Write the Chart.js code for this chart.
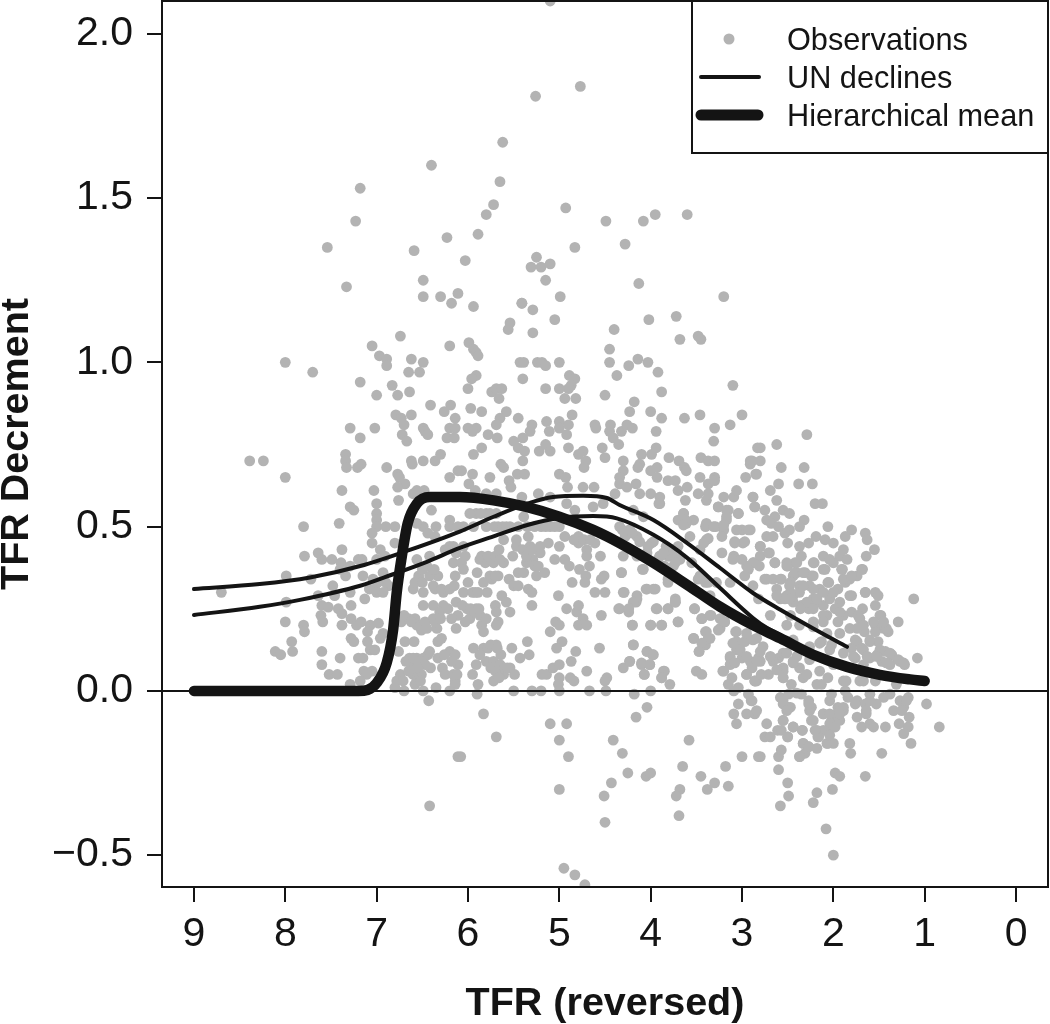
<!DOCTYPE html>
<html>
<head>
<meta charset="utf-8">
<title>TFR Decrement</title>
<script src="https://cdn.jsdelivr.net/npm/chart.js@4"></script>
<style>
  html, body { margin: 0; padding: 0; background: #fff; }
  canvas { display: block; }
</style>
</head>
<body>
<canvas id="chart" width="1050" height="1024"></canvas>
<script>
/* --- Data --- */
const xTicks = [9, 8, 7, 6, 5, 4, 3, 2, 1, 0];
const yTicks = [-0.5, 0, 0.5, 1, 1.5, 2];
const xTitle = 'TFR (reversed)';
const yTitle = 'TFR Decrement';
const legendLabels = ['Observations', 'UN declines', 'Hierarchical mean'];

// [TFR, decrement]
const observations = [
[6.40,1.60],[7.18,1.53],[7.23,1.43],[7.54,1.35],[6.23,1.38],[6.59,1.34],[7.33,1.23],[6.49,1.25],[6.49,1.20],[6.30,1.20],[6.11,1.21],[6.18,1.18],
[5.10,2.10],[4.77,1.84],[5.26,1.81],[5.62,1.67],[5.65,1.55],[5.72,1.48],[5.80,1.45],[5.89,1.39],[6.03,1.31],[4.93,1.47],[4.49,1.43],[4.08,1.43],[3.95,1.45],[3.60,1.45],[4.28,1.36],[4.83,1.35],[5.25,1.32],[5.31,1.29],[5.20,1.29],[5.10,1.30],[5.15,1.25],[4.13,1.24],[4.99,1.20],[3.20,1.20],[5.41,1.18],
[6.74,1.08],[7.05,1.05],[6.20,1.05],[6.97,1.02],[6.89,1.01],[6.89,0.99],[6.62,1.01],[6.49,1.00],[8.00,1.00],[7.70,0.97],[6.65,0.97],[6.53,0.97],[7.18,0.94],[6.83,0.93],[6.64,0.91],[6.77,0.90],[7.00,0.90],[6.41,0.87],[6.19,0.87],[6.26,0.85],[6.14,0.83],[6.79,0.84],[6.73,0.83],[6.62,0.84],[6.70,0.81],[7.29,0.80],[7.02,0.80],[6.49,0.80],[6.20,0.80],[6.14,0.80],[6.47,0.79],[6.44,0.78],[6.72,0.78],[7.18,0.77],[6.67,0.76],[6.23,0.77],[6.15,0.77],
[7.34,0.72],[7.34,0.70],[7.33,0.68],[8.39,0.70],[8.24,0.70],[7.17,0.69],[7.21,0.68],[8.00,0.65],[6.62,0.70],[6.61,0.69],[6.49,0.70],[6.36,0.70],[6.30,0.72],[6.89,0.68],[6.77,0.66],[6.75,0.65],[6.69,0.63],[6.77,0.62],[6.20,0.65],[6.11,0.67],[7.38,0.61],[7.03,0.61],[7.00,0.57],[6.76,0.58],[6.60,0.60],[6.56,0.61],[6.48,0.61],[7.29,0.56],[7.25,0.55],[6.40,0.55],[7.00,0.54],[7.00,0.52],[7.00,0.50],[7.41,0.51],[7.80,0.50],[6.90,0.50],[6.80,0.50],[6.20,0.52],[6.20,0.50],[6.11,0.50],[6.35,0.50],[6.49,0.50],[6.56,0.51],[6.44,0.48],[6.36,0.47],[7.05,0.48],[7.05,0.45],[6.80,0.45],[7.38,0.43],[6.96,0.43],[6.91,0.41],[7.79,0.41],[7.64,0.42],[7.60,0.40],[7.49,0.40],[7.39,0.39],[7.20,0.40],[7.16,0.40],[7.00,0.40],[7.29,0.38],[7.40,0.37],[7.99,0.35],[7.72,0.34],[7.34,0.35],[7.15,0.35],[7.04,0.34],[6.93,0.36],[6.56,0.40],[6.42,0.41],[6.45,0.38],[6.54,0.35],[6.33,0.35],[6.14,0.35],[6.16,0.39],[6.13,0.42],[6.54,0.34],[7.48,0.32],[7.29,0.30],[8.70,0.30],[7.64,0.29],[7.46,0.29],[7.13,0.28],[6.87,0.32],[7.00,0.30],[6.93,0.30],[6.60,0.31],[6.49,0.30],[6.36,0.31],[6.27,0.30],[7.99,0.27],
[8.00,0.21],[7.80,0.20],[7.79,0.18],[7.93,0.15],[8.11,0.12],[8.05,0.11],[7.92,0.12],[7.60,0.26],[7.53,0.255],[7.61,0.23],[7.59,0.21],[7.42,0.25],[7.38,0.235],[7.38,0.20],[7.28,0.26],[7.28,0.22],[7.22,0.20],[7.17,0.21],[7.07,0.20],[6.98,0.206],[7.10,0.18],[7.28,0.16],[7.25,0.15],[7.10,0.15],[7.60,0.12],[7.40,0.10],[7.60,0.08],[7.52,0.05],[7.43,0.05],[7.20,0.10],[7.15,0.10],[7.07,0.125],[7.02,0.125],[7.14,0.06],[7.05,0.06],[7.11,0.05],[7.18,0.03],[7.29,0.02],[6.96,0.16],[6.93,0.175],[6.76,0.12],[6.69,0.15],[6.59,0.15],[6.73,0.21],[6.65,0.22],[6.58,0.22],[6.56,0.20],[6.51,0.185],[6.45,0.19],[6.34,0.19],[6.49,0.26],[6.38,0.26],[6.27,0.26],[6.13,0.27],[6.31,0.24],[6.11,0.23],[6.13,0.19],[6.33,0.15],[6.29,0.16],[6.20,0.12],[6.14,0.11],[6.33,0.10],[6.44,0.11],[6.64,0.10],[6.56,0.10],[6.49,0.10],[6.11,0.08],[6.62,0.08],[6.54,0.08],[6.41,0.07],[6.28,0.07],[6.25,0.05],[6.74,0.05],[6.60,0.05],[6.51,0.05],[6.78,0.03],[6.71,0.03],[6.58,0.02],[6.14,0.03],[6.14,0.02],[6.80,0.01],[6.35,0.01],[6.70,0.00],[6.49,0.00],[6.20,0.00],[6.43,-0.03],[6.11,-0.20],[6.42,-0.35],
[5.94,1.17],[5.41,1.18],[5.29,1.16],[5.05,1.13],[5.54,1.12],[5.56,1.10],[5.29,1.09],[5.99,1.06],[5.94,1.04],[5.91,1.03],[5.89,1.02],[4.40,1.10],[4.02,1.13],[3.72,1.14],[3.68,1.07],[3.48,1.08],[3.45,1.07],[4.45,1.04],[4.45,1.00],[4.24,0.99],[4.14,1.01],[4.03,1.00],[3.92,0.97],[4.37,0.96],[3.88,0.91],[4.50,0.90],[4.18,0.88],[4.23,0.85],[4.00,0.85],[3.88,0.83],[3.63,0.83],[3.46,0.84],[3.10,0.93],[3.00,0.84],[3.13,0.81],[3.30,0.80],[3.31,0.76],[3.94,0.79],[5.43,1.00],[5.39,1.00],[5.24,1.00],[5.19,1.00],[5.15,0.99],[5.00,1.00],[4.89,0.96],[4.83,0.95],[4.87,0.93],[4.90,0.92],[5.40,0.95],[5.15,0.92],[5.00,0.92],[4.94,0.89],[4.82,0.89],[5.91,0.96],[5.96,0.95],[6.00,0.92],[5.74,0.91],[5.69,0.92],[5.63,0.92],[5.66,0.89],[5.97,0.86],[5.85,0.85],[5.58,0.85],[5.65,0.83],[5.69,0.81],[5.45,0.83],[5.30,0.81],[5.32,0.79],[5.14,0.82],[5.11,0.79],[5.00,0.82],[5.00,0.80],[4.90,0.81],[4.92,0.78],[4.86,0.84],[4.61,0.81],[4.60,0.80],[4.44,0.81],[4.45,0.79],[4.41,0.77],[4.35,0.75],[4.32,0.79],[4.26,0.81],[4.20,0.80],[6.00,0.80],[5.91,0.80],[5.95,0.79],[5.78,0.78],[5.68,0.77],[5.50,0.76],[5.40,0.77],[5.45,0.74],[5.38,0.73],[5.22,0.73],[5.15,0.75],[5.10,0.73],[4.90,0.74],[5.85,0.74],[5.94,0.72],[4.74,0.73],[4.79,0.72],[4.71,0.70],[4.73,0.68],[4.53,0.74],[4.50,0.71],[3.94,0.74],[4.30,0.70],[4.30,0.67],[4.34,0.65],[4.34,0.63],[4.10,0.72],[3.99,0.72],[4.12,0.69],[4.14,0.68],[4.00,0.67],[3.93,0.65],[3.93,0.68],[3.80,0.71],[3.69,0.70],[3.63,0.68],[3.61,0.67],[3.45,0.71],[3.37,0.70],[3.30,0.70],[2.91,0.70],[2.91,0.69],[2.83,0.74],[2.85,0.66],[2.96,0.65],[5.64,0.69],[5.61,0.68],[5.40,0.70],[5.95,0.66],[5.76,0.65],[6.07,0.67],[5.46,0.66],[5.38,0.66],[5.00,0.66],[4.93,0.65],[4.91,0.62],[5.55,0.64],[5.53,0.62],[5.99,0.63],[5.92,0.61],[5.80,0.60],[5.69,0.60],[5.41,0.59],[5.23,0.60],[5.10,0.59],[4.74,0.62],[4.62,0.62],[4.39,0.60],[4.26,0.62],[4.16,0.63],[4.12,0.60],[4.00,0.60],[3.90,0.59],[3.90,0.57],[3.81,0.64],[3.73,0.64],[3.70,0.61],[3.60,0.62],[3.62,0.58],[3.46,0.65],[3.37,0.63],[3.30,0.65],[3.30,0.64],[3.48,0.60],[3.39,0.58],[3.37,0.60],[3.20,0.59],[3.09,0.59],[3.06,0.61],[3.26,0.56],[2.88,0.59],[2.86,0.56],[3.04,0.54],[3.15,0.55],[3.17,0.52],[3.20,0.49],[3.22,0.47],[3.00,0.49],[2.91,0.49],[3.08,0.45],[2.99,0.45],[3.64,0.54],[3.70,0.52],[3.53,0.52],[3.61,0.51],[3.40,0.50],[3.29,0.50],[3.39,0.46],[3.46,0.43],[3.57,0.47],[4.63,0.56],[4.52,0.57],[4.92,0.57],[4.83,0.55],[5.91,0.54],[5.80,0.54],[5.69,0.54],[5.39,0.53],[4.08,0.53],[4.19,0.55],[6.05,0.50],[5.94,0.50],[5.80,0.50],[5.67,0.50],[5.54,0.50],[5.45,0.50],[5.27,0.50],[5.10,0.50],[5.00,0.50],[4.34,0.50],[4.23,0.49],[4.28,0.47],[5.61,0.46],[5.47,0.46],[5.34,0.47],[5.32,0.44],[4.94,0.47],[4.79,0.47],[4.79,0.45],[4.61,0.45],[5.21,0.42],[5.12,0.45],[5.00,0.44],[5.21,0.44],[5.66,0.43],[5.51,0.41],[6.03,0.41],[4.70,0.43],[4.70,0.41],[4.55,0.41],[3.99,0.45],[4.04,0.42],[4.30,0.41],[4.15,0.41],[5.87,0.40],[5.81,0.39],[5.72,0.39],[5.61,0.39],[5.05,0.40],[4.94,0.40],[4.89,0.38],[5.29,0.40],[5.36,0.39],[5.45,0.36],[5.39,0.36],[5.16,0.36],[5.25,0.35],[4.78,0.37],[4.67,0.38],[4.32,0.36],[4.09,0.37],[5.90,0.36],[5.76,0.35],[5.67,0.35],[5.83,0.33],[4.71,0.35],[4.72,0.33],[4.86,0.33],[4.51,0.35],[4.54,0.34],[5.55,0.34],[5.50,0.32],[5.45,0.32],[5.34,0.31],[5.30,0.30],[6.00,0.33],[6.05,0.30],[5.92,0.30],[5.79,0.30],[4.30,0.30],[4.61,0.30],[4.50,0.30],[4.05,0.31],[3.95,0.31],[3.81,0.41],[3.71,0.41],[3.75,0.38],[3.81,0.34],[3.90,0.41],[3.48,0.34],[3.37,0.33],[2.95,0.38],[2.87,0.39],[3.09,0.41],[3.00,0.40],[5.63,0.29],[5.01,0.29],[4.15,0.29],[3.73,0.28],[3.35,0.29],
[5.30,0.26],[5.70,0.26],[5.58,0.27],[5.54,0.24],[5.69,0.24],[5.67,0.21],[5.69,0.20],[6.01,0.25],[5.91,0.25],[5.98,0.22],[5.87,0.23],[5.85,0.20],[5.83,0.18],[4.92,0.25],[4.81,0.24],[4.79,0.26],[4.74,0.22],[4.79,0.20],[4.70,0.20],[5.04,0.21],[5.00,0.20],[5.10,0.18],[4.54,0.23],[4.35,0.25],[4.24,0.24],[4.16,0.27],[4.20,0.20],[4.00,0.20],[3.88,0.20],[3.93,0.25],[3.81,0.25],[3.73,0.27],[3.70,0.21],[3.52,0.25],[3.44,0.22],[3.34,0.23],[3.19,0.21],[3.24,0.19],[3.40,0.18],[3.35,0.16],[3.40,0.14],[3.53,0.16],[3.47,0.12],[3.07,0.18],[3.06,0.15],[2.97,0.15],[4.19,0.14],[4.56,0.13],[4.97,0.15],[5.03,0.13],[4.82,0.12],[4.87,0.09],[5.35,0.15],[5.33,0.11],[5.43,0.10],[5.69,0.14],[5.52,0.13],[5.64,0.11],[5.94,0.13],[5.83,0.13],[5.87,0.11],[5.80,0.09],[5.91,0.08],[5.72,0.09],[5.65,0.08],[5.54,0.07],[5.49,0.05],[5.61,0.05],[5.67,0.05],[5.72,0.03],[5.95,0.05],[5.89,0.02],[5.90,-0.01],[5.19,0.05],[5.14,0.05],[5.07,0.07],[5.00,0.08],[5.00,0.04],[4.88,0.04],[4.84,0.03],[5.01,0.02],[4.70,0.06],[4.48,0.04],[4.50,0.03],[4.30,0.07],[4.23,0.09],[4.10,0.08],[4.01,0.08],[4.04,0.12],[3.98,0.11],[4.07,0.05],[3.85,0.06],[3.88,0.04],[3.79,0.02],[3.50,0.06],[3.44,0.05],[3.21,0.06],[5.50,0.00],[5.30,0.00],[5.20,0.00],[5.00,0.00],[4.67,0.00],[4.49,0.00],[4.00,0.00],[4.18,-0.01],[5.83,-0.07],[4.04,-0.05],[4.16,-0.08],[5.10,-0.10],[4.92,-0.10],[5.69,-0.14],[5.00,-0.15],[4.41,-0.15],[3.58,-0.15],[4.31,-0.19],[4.90,-0.20],[6.08,-0.20],[3.65,-0.23],[4.25,-0.25],[4.05,-0.26],[4.00,-0.25],[3.18,-0.23],[3.00,-0.20],[2.82,-0.20],[3.45,-0.26],[3.30,-0.28],[3.38,-0.30],[3.15,-0.29],[4.43,-0.28],[4.51,-0.32],[5.00,-0.30],[3.68,-0.30],[3.72,-0.32],[3.69,-0.38],[4.50,-0.40],[4.95,-0.54],[4.83,-0.56],[4.72,-0.59],
[3.13,0.10],[3.06,0.125],[3.00,0.10],[2.91,0.09],[2.82,0.10],[3.13,0.08],[2.89,0.07],[2.95,0.05],[2.86,0.03],[3.11,0.04],[3.15,0.02],[3.04,0.01],[3.09,0.00],[2.93,-0.01],[2.89,-0.03],[3.04,-0.04],[3.09,-0.07],[2.95,-0.07],[2.86,-0.07],[3.06,-0.10],
[2.29,0.78],[2.62,0.75],[2.80,0.74],[2.80,0.70],[2.89,0.70],[2.57,0.68],[2.32,0.68],[2.84,0.66],[2.38,0.63],[2.23,0.63],[2.60,0.63],[2.69,0.61],[2.88,0.59],[2.62,0.58],[2.20,0.57],[2.12,0.57],[2.86,0.56],[2.75,0.55],[2.55,0.55],[2.48,0.54],[2.64,0.53],[2.73,0.52],[2.68,0.51],[2.32,0.52],[2.37,0.50],[2.06,0.50],[1.80,0.49],[1.87,0.47],[1.65,0.48],[1.63,0.46],[1.55,0.43],[1.64,0.41],[2.48,0.49],[2.53,0.48],[2.19,0.47],[2.60,0.50],[2.73,0.47],[2.66,0.47],[2.50,0.45],[2.80,0.44],[2.37,0.44],[2.27,0.45],[2.09,0.46],[2.00,0.45],[1.89,0.43],[2.70,0.42],[2.80,0.41],[2.35,0.41],[2.11,0.41],[1.93,0.41],[1.85,0.40],[2.64,0.39],[2.50,0.38],[2.21,0.39],[2.00,0.39],[2.04,0.40],[2.88,0.39],[2.81,0.38],[2.42,0.39],[2.09,0.37],[1.90,0.37],[1.68,0.37],[2.40,0.36],[2.31,0.36],[2.24,0.35],[1.74,0.35],[1.82,0.34],[1.87,0.33],[2.75,0.34],[2.66,0.34],[2.57,0.34],[2.44,0.35],[2.06,0.33],[2.37,0.32],[2.26,0.32],[2.15,0.31],[1.95,0.31],[2.62,0.31],[2.51,0.29],[1.65,0.30],[1.54,0.30],[1.51,0.29],[1.80,0.29],[1.12,0.28],[2.44,0.29],[2.22,0.28],[2.04,0.29],[2.58,0.28],[2.35,0.26],[2.18,0.27],[2.11,0.26],[1.93,0.27],[1.54,0.26],[1.68,0.25],[1.80,0.24],[1.73,0.23],[1.48,0.23],[1.29,0.21],[2.27,0.25],[2.07,0.23],[1.89,0.23],[2.69,0.23],[2.47,0.23],[1.98,0.25],[2.22,0.21],[1.82,0.19],[1.95,0.21],[1.69,0.20],[1.66,0.18],[1.54,0.20],[1.45,0.19],[1.40,0.18],[1.54,0.18],[1.51,0.15],[1.74,0.15],[1.80,0.13],[1.60,0.15],[1.69,0.13],[1.43,0.12],[1.36,0.11],[1.52,0.11],[1.27,0.09],[1.22,0.08],[1.08,0.10],[1.76,0.10],[1.60,0.10],[1.38,0.08],[1.47,0.09],[1.67,0.08],[2.13,0.15],[2.02,0.14],[2.84,0.16],[2.80,0.12],[2.60,0.10],[2.44,0.09],[2.66,0.09],[2.80,0.09],[2.55,0.07],[2.37,0.07],[2.15,0.06],[2.00,0.08],[2.71,0.05],[2.84,0.03],[2.55,0.04],[2.46,0.02],[2.33,0.04],[2.18,0.02],[2.06,0.04],[1.89,0.03],[1.71,0.03],[1.54,0.03],
[0.98,-0.04],[0.84,-0.11],[1.15,-0.16],[1.47,-0.19],[1.65,-0.26],[1.98,-0.25],[1.93,-0.26],[2.01,-0.30],[2.18,-0.31],[2.22,-0.34],[2.08,-0.42],[2.00,-0.50],[2.50,-0.28],[2.49,-0.32],[2.58,-0.35],[2.60,-0.24],[2.80,-0.20],[2.60,-0.20],[2.57,-0.18],[2.37,-0.20],[1.82,-0.16],[1.81,-0.19],[2.73,-0.10],[2.55,-0.09],[2.61,-0.12],[2.44,-0.11],[2.34,-0.12],[2.75,-0.14],[2.69,-0.14],[2.50,-0.14],[2.18,-0.12],[2.17,-0.14],[2.33,-0.16],[2.27,-0.17],[2.18,-0.175],[2.31,-0.19],[2.06,-0.16],[2.00,-0.16],[1.74,-0.08],[1.69,-0.11],[1.60,-0.10],[1.56,-0.11],[1.43,-0.11],[1.28,-0.10],[1.18,-0.11],[1.23,-0.13],[1.17,-0.08],[2.84,-0.06],[2.90,-0.03],[2.55,-0.04],[2.47,-0.05],[2.58,-0.02],[2.49,-0.01],[2.35,-0.01],[2.24,-0.05],[2.24,-0.09],[2.27,-0.03],[2.04,-0.03],[1.95,-0.05],[2.11,-0.07],[2.02,-0.09],[1.95,-0.08],[2.04,-0.12],[1.89,-0.06],[1.84,-0.02],[1.74,-0.03],[1.64,-0.07],[1.65,-0.04],[1.53,-0.04],[1.45,-0.02],[1.34,-0.06],[1.23,-0.05],[1.18,-0.02],[1.27,-0.03],[2.13,0.02],[2.02,-0.01],[1.87,0.00],[1.60,-0.01],[1.38,-0.01],[2.55,0.06],[2.29,0.05],[2.86,0.03],[1.86,0.03],[1.67,0.03],[1.31,0.02],
[1.82,0.29],[1.65,0.30],[1.49,0.23],[1.71,0.22],[1.93,0.24],[2.11,0.23],[2.29,0.27],[2.36,0.25],[2.22,0.25],[2.04,0.28],[2.22,0.31],[2.37,0.30],[2.47,0.30],[2.42,0.36],[2.33,0.36],[2.22,0.35],[2.05,0.33],[1.89,0.34],[1.80,0.35],[1.69,0.37],[1.91,0.37],[2.22,0.39],[2.51,0.39],[2.40,0.39],[2.11,0.37],[2.00,0.30],[2.11,0.30],[2.47,0.33],[2.33,0.32],[2.18,0.28],[2.53,0.28],[2.44,0.27],[2.11,0.21],[1.74,0.19],[1.67,0.20],[1.56,0.21],[1.42,0.19],[1.45,0.21],[1.76,0.155],[1.60,0.155],[1.49,0.125],[1.38,0.115],[1.29,0.095],[1.23,0.085],[1.67,0.125],[1.63,0.105],[1.53,0.105],[1.42,0.085],[1.78,0.105],[1.93,0.175],[2.07,0.175],[2.22,0.195],[2.37,0.20],[2.51,0.20],[2.44,0.155],[2.26,0.135],[2.15,0.145],[2.04,0.125],[1.89,0.115],[2.26,0.095],[2.40,0.105],[2.55,0.115],
[2.49,-0.05],[2.55,-0.09],[2.44,-0.11],[2.34,-0.12],[2.50,-0.14],[2.57,-0.12],[2.33,-0.16],[2.27,-0.17],[2.37,-0.20],[2.07,-0.16],[2.11,-0.07],[2.04,-0.07],[1.96,-0.07],[1.93,-0.09],[2.04,-0.10],[1.98,-0.11],[2.11,-0.12],[2.04,-0.135],[2.16,-0.14],[2.20,-0.12],[2.26,-0.06],[2.27,-0.04],[2.22,-0.09],[1.89,-0.05],[1.93,-0.07],[1.76,-0.04],[1.64,-0.06],[1.60,-0.03],[1.25,-0.06],[1.20,-0.03],[2.40,-0.007],[2.55,-0.03],[2.51,-0.06],
[3.91,0.57],[3.64,0.54],[3.62,0.52],[3.64,0.505],[3.39,0.51],[3.31,0.50],[3.26,0.56],[3.17,0.55],[3.17,0.53],[3.04,0.54],[3.20,0.505],[3.06,0.49],[2.93,0.49],[3.08,0.454],[2.97,0.454],[3.37,0.464],[3.42,0.45],[3.97,0.454],[4.03,0.44],[3.81,0.43],[3.90,0.41],[3.79,0.41],[3.68,0.40],[3.73,0.39],[4.08,0.37],[4.32,0.36],[4.12,0.454],[4.23,0.49],[3.55,0.39],[3.22,0.42],[3.10,0.40],[2.80,0.44],[2.71,0.42],[2.64,0.39],[2.51,0.38],[2.93,0.37],[2.97,0.35],[2.73,0.34],[2.58,0.34],[2.48,0.32],[2.88,0.32],[2.82,0.28],[2.62,0.29],[2.48,0.28],[3.46,0.35],[3.40,0.33],[3.28,0.33],[3.13,0.33],[3.81,0.33],[3.97,0.31],[4.04,0.31],[4.29,0.30],[4.15,0.28],[4.19,0.27],[4.34,0.25],[4.24,0.25],[3.94,0.25],[3.81,0.25],[3.73,0.27],[3.52,0.25],[3.44,0.22],[3.35,0.23],[3.24,0.22],[3.19,0.21],[3.26,0.185],[3.39,0.18],[3.06,0.18],[2.95,0.175],[3.53,0.16],[3.37,0.16],[3.44,0.145],[3.47,0.12],[4.20,0.20],[4.00,0.20],[3.88,0.20],[3.70,0.21],[4.19,0.14],[4.04,0.12],[3.97,0.11],[4.23,0.09],[4.10,0.085],[4.01,0.08],[4.07,0.05],[3.86,0.06],[3.88,0.04],[3.10,0.145],[3.02,0.125],[3.13,0.105],[2.88,0.155],[2.77,0.135],[3.08,0.085],[2.95,0.105],[2.84,0.09],[2.69,0.105],[2.51,0.115],[2.44,0.085],[2.62,0.064],[2.95,0.05],[2.79,0.05],[3.20,0.06],[2.55,0.04],
[5.98,0.54],[5.86,0.54],[5.76,0.54],[5.71,0.50],[5.62,0.50],[5.58,0.50],[5.35,0.50],[5.20,0.50],[5.15,0.50],[5.05,0.50],[4.84,0.46],[4.73,0.46],[4.66,0.46],[5.47,0.44],[5.40,0.43],[5.36,0.41],[5.30,0.43],[5.27,0.38],[5.23,0.38],[5.85,0.41],[5.78,0.41],[5.70,0.41],[5.65,0.40],[5.74,0.34],[5.70,0.35],[6.07,0.39],[6.05,0.37],[5.95,0.30],[5.89,0.30],[3.83,0.44],[3.76,0.43],[3.70,0.44],[3.85,0.38],[3.80,0.37],[3.92,0.40],[3.86,0.42],[4.31,0.49],[4.15,0.47],[4.20,0.48],
[6.58,0.33],[6.50,0.33],[6.42,0.35],[6.38,0.32],[6.29,0.31],[6.20,0.31],[6.15,0.32],[6.50,0.37],[6.37,0.37],[6.25,0.43],[6.20,0.44],[6.16,0.44],[6.05,0.44],[7.08,0.31],[7.02,0.31],[6.99,0.33],[6.90,0.33],[6.70,0.23],[6.62,0.21],[6.52,0.20],[6.47,0.21],[6.38,0.22],[6.36,0.21],[6.30,0.22],[6.22,0.25],[6.18,0.22],[6.68,0.09],[6.60,0.10],[6.52,0.09],[6.47,0.08],[6.55,0.07],[6.65,0.06],[6.56,0.03],[6.52,0.03],[6.42,0.12],[6.26,0.11],[6.18,0.09],[6.16,0.05],[6.12,0.05],[6.06,0.26],[5.97,0.25],[6.03,0.21],[5.93,0.24],[5.88,0.25],[5.80,0.22],[5.75,0.07],[5.70,0.06],[5.60,0.07],[5.57,0.07],[5.66,0.04],[5.78,0.13],[5.75,0.14],[5.68,0.13]
];

const unDeclineA = [[9,0.31],[8.28,0.325],[7.73,0.345],[7.18,0.38],[6.63,0.43],[6.09,0.485],[5.72,0.53],[5.35,0.57],[5.07,0.59],[4.74,0.594],[4.48,0.587],[4.34,0.566],[3.97,0.52],[3.6,0.45],[3.24,0.374],[2.88,0.298],[2.58,0.247],[2.22,0.19],[1.85,0.134]];
const unDeclineB = [[9,0.231],[8.28,0.256],[7.84,0.277],[7.18,0.32],[6.82,0.355],[6.45,0.393],[6.09,0.435],[5.72,0.47],[5.35,0.505],[4.99,0.527],[4.63,0.532],[4.37,0.525],[3.97,0.475],[3.6,0.405],[3.24,0.313],[2.88,0.222],[2.73,0.192],[2.58,0.17]];
const hierarchicalMean = [[9,0],[7.2,0],[7.1,0.003],[7,0.024],[6.89,0.085],[6.82,0.185],[6.78,0.3],[6.73,0.4],[6.66,0.51],[6.56,0.57],[6.42,0.59],[6.09,0.59],[5.72,0.58],[5.36,0.56],[5,0.53],[4.63,0.49],[4.34,0.45],[3.97,0.39],[3.6,0.323],[3.24,0.256],[2.88,0.2],[2.58,0.16],[2.22,0.11],[1.85,0.073],[1.49,0.049],[1.16,0.035],[1,0.03]];
const zeroLine = [[9.35,0],[-0.35,0]];

const toPoints = rows => rows.map(r => ({ x: r[0], y: r[1] }));

/* --- Styles --- */
const ink = '#141414';
const dotGrey = '#b3b3b3';
const axisFont = { family: '"Liberation Sans", Arial, sans-serif', size: 41 };
const titleFont = { family: '"Liberation Sans", Arial, sans-serif', size: 39.5, weight: 'bold', lineHeight: 1 };

// R style frame round the plot, and the boxed legend in the top right corner
const framePlugin = {
    id: 'frame',
    afterDraw(chart) {
        const { ctx, chartArea: a } = chart;
        ctx.save();
        ctx.strokeStyle = ink;
        ctx.lineWidth = 2;
        ctx.strokeRect(a.left, a.top, a.right - a.left, a.bottom - a.top);

        // legend box
        ctx.fillStyle = '#fff';
        ctx.fillRect(692, a.top, a.right - 692, 152);
        ctx.strokeRect(692, a.top, a.right - 692, 152);

        ctx.fillStyle = dotGrey;
        ctx.beginPath();
        ctx.arc(729, 39, 5.5, 0, Math.PI * 2);
        ctx.fill();

        ctx.strokeStyle = ink;
        ctx.lineCap = 'round';
        ctx.lineWidth = 4;
        ctx.beginPath();
        ctx.moveTo(701, 77);
        ctx.lineTo(759, 77);
        ctx.stroke();
        ctx.lineWidth = 11;
        ctx.beginPath();
        ctx.moveTo(701, 115);
        ctx.lineTo(758, 115);
        ctx.stroke();

        ctx.fillStyle = ink;
        ctx.font = '30.7px "Liberation Sans", Arial, sans-serif';
        ctx.textBaseline = 'middle';
        ctx.fillText(legendLabels[0], 787, 42);
        ctx.fillText(legendLabels[1], 787, 80);
        ctx.fillText(legendLabels[2], 787, 118);
        ctx.restore();
    }
};

function lineSet(label, rows, width, order, cap) {
    return {
        label: label,
        data: toPoints(rows),
        showLine: true,
        borderColor: ink,
        borderWidth: width,
        borderCapStyle: cap,
        pointRadius: 0,
        cubicInterpolationMode: 'monotone',
        order: order
    };
}

new Chart(document.getElementById('chart').getContext('2d'), {
    type: 'scatter',
    data: {
        datasets: [
            lineSet(legendLabels[2], hierarchicalMean, 10.5, 1, 'round'),
            lineSet(legendLabels[1], unDeclineA, 4, 2, 'round'),
            lineSet(legendLabels[1], unDeclineB, 4, 2, 'round'),
            lineSet('Zero', zeroLine, 2, 3, 'butt'),
            {
                label: legendLabels[0],
                data: toPoints(observations),
                backgroundColor: dotGrey,
                borderWidth: 0,
                pointRadius: 5.4,
                order: 4
            }
        ]
    },
    options: {
        responsive: false,
        animation: false,
        events: [],
        layout: { autoPadding: false, padding: { top: 1, right: 2, left: 0, bottom: 0 } },
        plugins: { legend: { display: false }, tooltip: { enabled: false } },
        scales: {
            x: {
                type: 'linear',
                reverse: true,
                min: -0.35,
                max: 9.35,
                afterBuildTicks: axis => { axis.ticks = xTicks.map(v => ({ value: v })); },
                afterFit: axis => { axis.height = 137; axis.paddingLeft = 0; axis.paddingRight = 0; },
                border: { color: ink, width: 2 },
                grid: { drawOnChartArea: false, drawTicks: true, tickLength: 15, color: ink, lineWidth: 2 },
                ticks: { color: ink, font: axisFont, padding: 8, maxRotation: 0, autoSkip: false, callback: v => String(v) },
                title: { display: true, text: xTitle, color: ink, font: titleFont, padding: { top: 0, bottom: 0 } }
            },
            y: {
                type: 'linear',
                min: -0.597,
                max: 2.1,
                afterBuildTicks: axis => { axis.ticks = yTicks.map(v => ({ value: v })); },
                afterFit: axis => { axis.width = 162; axis.paddingTop = 0; axis.paddingBottom = 0; },
                border: { color: ink, width: 2 },
                grid: { drawOnChartArea: false, drawTicks: true, tickLength: 15, color: ink, lineWidth: 2 },
                ticks: {
                    color: ink,
                    font: axisFont,
                    padding: 14,
                    autoSkip: false,
                    callback: v => (v < 0 ? '\u2212' + Math.abs(v).toFixed(1) : v.toFixed(1))
                },
                title: { display: true, text: yTitle, color: ink, font: titleFont, padding: { top: -3, bottom: 0 } }
            }
        }
    },
    plugins: [framePlugin]
});
</script>
</body>
</html>
